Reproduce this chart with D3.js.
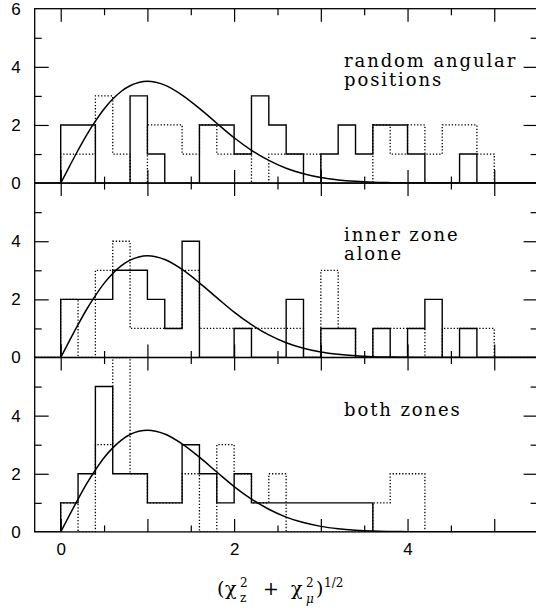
<!DOCTYPE html>
<html>
<head>
<meta charset="utf-8">
<script src="https://cdn.jsdelivr.net/npm/d3@7"></script>
<style>
  body { margin: 0; background: #fff; }
  svg text { fill: #000; }
  .serif { font-family: "DejaVu Serif", "Liberation Serif", serif; }
</style>
</head>
<body>
<script>
// histogram bins: lower edges 0.0, 0.2, ... 4.8 (width 0.2)
const binWidth = 0.2;
const binStarts = d3.range(25).map(i => +(i * binWidth).toFixed(1));

const randomSolid  = [2,2,0,0,3,1,0,0,2,2,1,3,2,1,0,1,2,1,2,2,1,0,0,1,0];
const randomDotted = [1,1,3,1,0,2,2,1,2,1,1,0,1,1,1,0,0,0,2,1,2,1,2,2,1];
const innerSolid   = [2,2,2,3,3,2,1,4,0,0,1,0,0,2,0,1,1,0,1,0,1,2,0,1,0];
const innerDotted  = [2,0,3,4,1,1,1,3,1,1,1,1,1,1,0,3,1,0,1,1,1,0,1,1,1];
const bothSolid    = [1,2,5,2,2,1,1,3,2,1,2,1,1,1,1,1,1,1,0,0,0,0,0,0,0];
const bothDotted   = [1,0,3,6,2,1,1,2,0,3,2,1,2,0,0,0,0,0,1,2,2,0,0,0,0];

// expected distribution curve
const curveX = [0,0.1,0.2,0.3,0.4,0.5,0.6,0.7,0.8,0.9,1.0,1.2,1.4,1.6,1.8,2.0,2.2,2.4,2.6,2.8,3.0,3.2,3.4,3.6,3.8,4.0,4.5,5.5];
const curveY = [0,0.57,1.13,1.66,2.13,2.55,2.89,3.16,3.35,3.46,3.50,3.37,3.03,2.57,2.06,1.56,1.13,0.78,0.51,0.32,0.19,0.11,0.06,0.03,0.016,0.008,0.001,0];

const panelLabels = [["random angular", "positions"], ["inner zone", "alone"], ["both zones"]];
const xTickLabels = [0, 2, 4];
const yTickLabelsTop = [0, 2, 4, 6];
const yTickLabelsOther = [0, 2, 4];

const panels = [
  {solid: randomSolid, dotted: randomDotted, label: panelLabels[0], yt: yTickLabelsTop},
  {solid: innerSolid,  dotted: innerDotted,  label: panelLabels[1], yt: yTickLabelsOther},
  {solid: bothSolid,   dotted: bothDotted,   label: panelLabels[2], yt: yTickLabelsOther}
];

const W = 536, H = 611;
const top0 = 8.7, ph = 174.4;

const svg = d3.select("body").append("svg")
  .attr("width", W).attr("height", H);

const x = d3.scaleLinear().domain([-0.3, 5.5]).range([34.7, 537.6]);

const stepLine = (vals, y) => {
  const pts = [[-0.3, 0]].concat(binStarts.map((b, i) => [b, vals[i]]), [[5.0, 0], [5.5, 0]]);
  return d3.line().x(d => x(d[0])).y(d => y(d[1])).curve(d3.curveStepAfter)(pts);
};

panels.forEach((p, k) => {
  const py = top0 + k * ph;
  const y = d3.scaleLinear().domain([0, 6]).range([py + ph, py]);
  const g = svg.append("g");

  g.append("clipPath").attr("id", "clip" + k)
    .append("rect").attr("x", x(-0.3)).attr("y", py).attr("width", x(5.5) - x(-0.3)).attr("height", ph);

  const body = g.append("g").attr("clip-path", `url(#clip${k})`);

  body.append("path")
    .attr("d", stepLine(p.dotted, y))
    .attr("fill", "none").attr("stroke", "#000")
    .attr("stroke-width", 1.3).attr("stroke-dasharray", "1.3,1.9");

  body.append("path")
    .attr("d", stepLine(p.solid, y))
    .attr("fill", "none").attr("stroke", "#000").attr("stroke-width", 1.4);

  body.append("path")
    .datum(d3.zip(curveX, curveY))
    .attr("d", d3.line().x(d => x(d[0])).y(d => y(d[1])).curve(d3.curveMonotoneX))
    .attr("fill", "none").attr("stroke", "#000").attr("stroke-width", 1.5);

  // ticks, all pointing inward
  const majX = d3.range(0, 6, 1), minX = d3.range(0.5, 5.5, 1);
  const majY = [2, 4], minY = [1, 3, 5];
  const tickSets = [
    [d3.axisBottom(x).tickValues(majX).tickSize(-13), `translate(0,${py + ph})`],
    [d3.axisBottom(x).tickValues(minX).tickSize(-6.5), `translate(0,${py + ph})`],
    [d3.axisTop(x).tickValues(majX).tickSize(-13), `translate(0,${py})`],
    [d3.axisTop(x).tickValues(minX).tickSize(-6.5), `translate(0,${py})`],
    [d3.axisLeft(y).tickValues(majY).tickSize(-14), `translate(${x(-0.3)},0)`],
    [d3.axisLeft(y).tickValues(minY).tickSize(-7), `translate(${x(-0.3)},0)`],
    [d3.axisRight(y).tickValues(majY).tickSize(-14), `translate(${x(5.5)},0)`],
    [d3.axisRight(y).tickValues(minY).tickSize(-7), `translate(${x(5.5)},0)`]
  ];
  tickSets.forEach(([ax, tr]) => {
    const a = g.append("g").attr("transform", tr).call(ax.tickFormat(""));
    a.select(".domain").remove();
    a.selectAll("line").attr("stroke", "#000").attr("stroke-width", 1.2);
  });

  // frame
  g.append("rect")
    .attr("x", x(-0.3)).attr("y", py)
    .attr("width", x(5.5) - x(-0.3)).attr("height", ph)
    .attr("fill", "none").attr("stroke", "#000").attr("stroke-width", 1.3);

  // y labels
  const yl = g.append("g").attr("transform", `translate(${x(-0.3)},0)`)
    .call(d3.axisLeft(y).tickValues(p.yt).tickSize(0).tickPadding(14).tickFormat(d3.format("d")));
  yl.select(".domain").remove();
  yl.selectAll("text").style("font-family", "'Liberation Sans', sans-serif").style("font-size", "17px");

  // panel label
  const t = g.append("text").attr("class", "serif")
    .attr("x", 344).attr("y", py + 58)
    .style("font-size", "18px").style("letter-spacing", "1.9px");
  p.label.forEach((line, i) => {
    t.append("tspan").attr("x", 344).attr("dy", i ? 19 : 0).text(line);
  });
});

// x labels below bottom panel
const xl = svg.append("g").attr("transform", `translate(0,${top0 + 3 * ph})`)
  .call(d3.axisBottom(x).tickValues(xTickLabels).tickSize(0).tickPadding(11).tickFormat(d3.format("d")));
xl.select(".domain").remove();
xl.selectAll("text").style("font-family", "'Liberation Sans', sans-serif").style("font-size", "17px");

// axis title: (chi_z^2 + chi_mu^2)^(1/2)
const title = svg.append("g").attr("class", "serif");
const base = 595;
const piece = (s, px, dy, fs, style) => title.append("text")
  .attr("x", px).attr("y", base + dy).style("font-size", fs + "px")
  .style("font-style", style || "normal").text(s);
piece("(", 217, 0, 19);
piece("χ", 225, 0, 19);
piece("2", 240, -8, 12);
piece("z", 240, 7, 12);
piece("+", 263, 0, 19);
piece("χ", 291, 0, 19);
piece("2", 306, -8, 12);
piece("μ", 306, 8, 12, "italic");
piece(")", 316, 0, 19);
piece("1/2", 324, -8, 12);
</script>
</body>
</html>
